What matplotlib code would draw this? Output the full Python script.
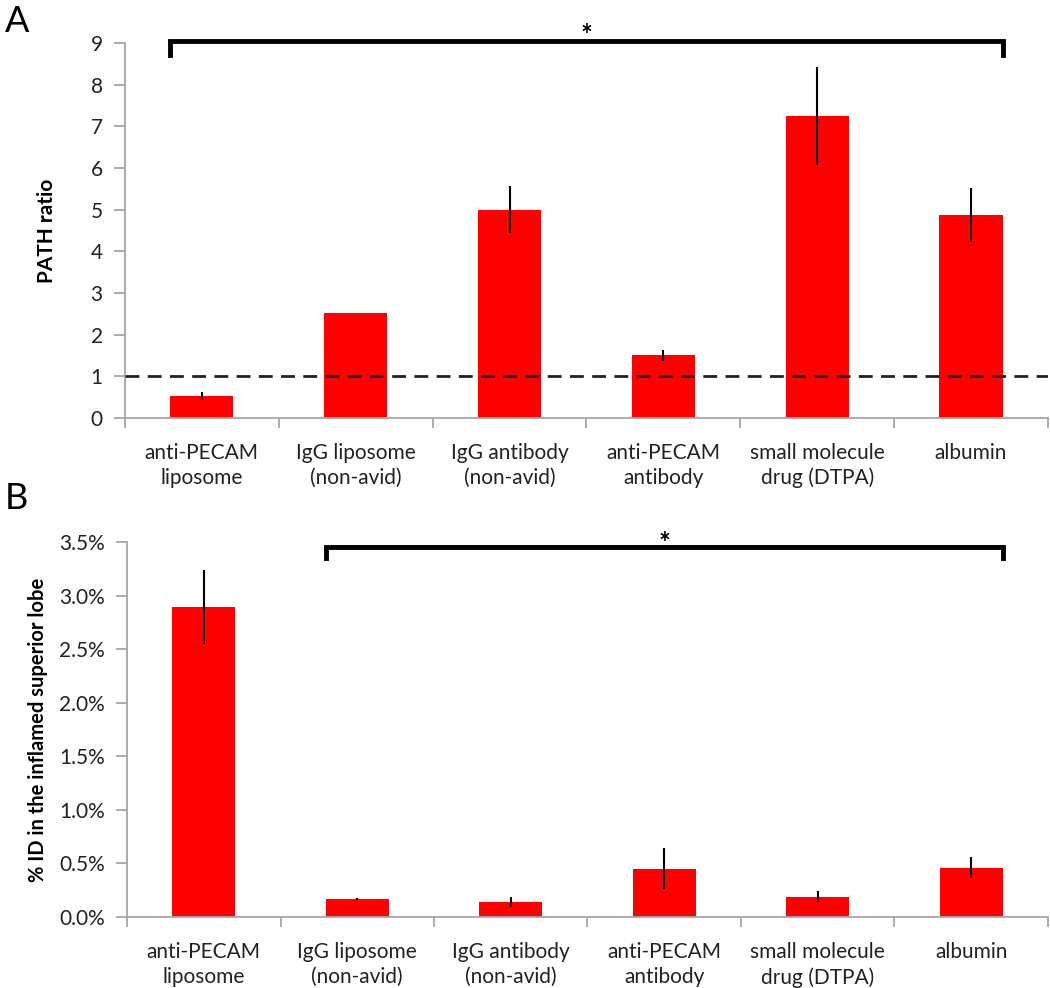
import matplotlib
matplotlib.use("Agg")
import matplotlib.pyplot as plt
import numpy as np
from matplotlib.ticker import FixedLocator, NullFormatter, FuncFormatter

categories = ["anti-PECAM\nliposome", "IgG liposome\n(non-avid)", "IgG antibody\n(non-avid)",
              "anti-PECAM\nantibody", "small molecule\ndrug (DTPA)", "albumin"]
path_ratio = [0.53, 2.52, 5.0, 1.5, 7.25, 4.88]
path_err = [0.09, 0.0, 0.57, 0.13, 1.18, 0.65]
pct_id = [2.89, 0.17, 0.14, 0.45, 0.19, 0.46]
pct_err = [0.345, 0.01, 0.05, 0.19, 0.05, 0.10]

plt.rcParams['font.family'] = ['Lato', 'DejaVu Sans']
fig = plt.figure(figsize=(10.5, 9.88), dpi=100)
axA = fig.add_axes([0.119, 0.577, 0.879, 0.3795])
axB = fig.add_axes([0.121, 0.0719, 0.877, 0.3795])

GRAY = "#a6a6a6"
x = np.arange(len(categories))
W = 0.41

def style(ax):
    for s in ["top", "right"]:
        ax.spines[s].set_visible(False)
    for s in ["left", "bottom"]:
        ax.spines[s].set_color(GRAY)
        ax.spines[s].set_linewidth(1.3)
    ax.set_xlim(-0.5, len(categories) - 0.5)
    ax.xaxis.set_major_locator(FixedLocator(np.arange(len(categories) + 1) - 0.5))
    ax.xaxis.set_major_formatter(NullFormatter())
    ax.xaxis.set_minor_locator(FixedLocator(x))
    ax.set_xticklabels(categories, minor=True, fontsize=15, color="#222222", linespacing=1.3)
    ax.tick_params(axis="x", which="major", length=7, color=GRAY, width=1.3, direction="out")
    ax.tick_params(axis="x", which="minor", length=0, pad=18)
    ax.tick_params(axis="y", length=8, color=GRAY, width=1.3, direction="out",
                   labelsize=15, labelcolor="#222222", pad=8)

# Panel A
axA.bar(x, path_ratio, width=W, color="#ff0000", zorder=2)
axA.errorbar(x, path_ratio, yerr=path_err, fmt="none", ecolor="black", elinewidth=1.5, capsize=0, zorder=3)
axA.set_ylim(0, 9)
axA.set_yticks(range(0, 10))
axA.axhline(1, color="#222222", lw=2, ls=(0, (5, 3)), zorder=4)
style(axA)
axA.set_ylabel("PATH ratio", fontsize=15, fontweight="bold", labelpad=24)
xl, xr = x[0] - W / 2, x[-1] + W / 2
axA.plot([xl, xl, xr, xr], [8.7, 9.05, 9.05, 8.7], color="black", lw=3.5, clip_on=False,
         solid_joinstyle="miter", zorder=5)
axA.text((xl + xr) / 2, 8.98, "*", ha="center", va="baseline", fontsize=20, fontweight="bold")

# Panel B
axB.bar(x, pct_id, width=W, color="#ff0000", zorder=2)
axB.errorbar(x, pct_id, yerr=pct_err, fmt="none", ecolor="black", elinewidth=1.5, capsize=0, zorder=3)
axB.set_ylim(0, 3.5)
axB.set_yticks(np.arange(0, 3.51, 0.5))
axB.yaxis.set_major_formatter(FuncFormatter(lambda v, p: f"{v:.1f}%"))
style(axB)
axB.set_ylabel("% ID in the inflamed superior lobe", fontsize=14.5, fontweight="bold", labelpad=8)
xl2 = x[1] - W / 2
axB.plot([xl2, xl2, xr, xr], [3.35, 3.45, 3.45, 3.35], color="black", lw=3.5, clip_on=False,
         solid_joinstyle="miter", zorder=5)
axB.text((xl2 + xr) / 2, 3.41, "*", ha="center", va="baseline", fontsize=20, fontweight="bold")

fig.text(0.005, 0.995, "A", fontsize=26, va="top", ha="left")
fig.text(0.005, 0.512, "B", fontsize=26, va="top", ha="left")

fig.savefig("out.png", dpi=100)
